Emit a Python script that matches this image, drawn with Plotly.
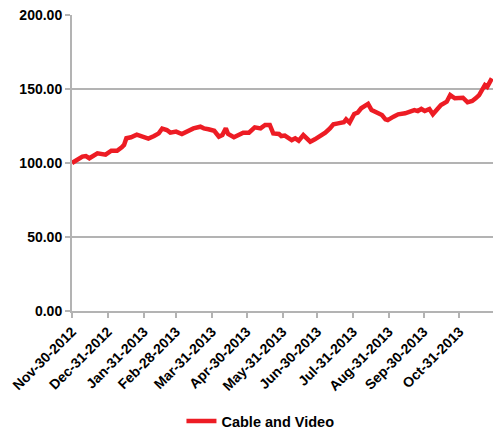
import pandas as pd
import plotly.graph_objects as go

# Cable and Video index level, sampled along the year
dates = [
    "2012-11-30", "2012-12-03", "2012-12-09", "2012-12-12", "2012-12-15", "2012-12-22",
    "2012-12-29", "2013-01-03", "2013-01-08", "2013-01-12", "2013-01-14", "2013-01-16",
    "2013-01-20", "2013-01-25", "2013-01-31", "2013-02-04", "2013-02-09", "2013-02-13",
    "2013-02-16", "2013-02-20", "2013-02-23", "2013-02-28", "2013-03-05", "2013-03-11",
    "2013-03-15", "2013-03-21", "2013-03-24", "2013-03-28", "2013-04-02", "2013-04-06",
    "2013-04-09", "2013-04-12", "2013-04-14", "2013-04-19", "2013-04-23", "2013-04-27",
    "2013-05-02", "2013-05-07", "2013-05-12", "2013-05-16", "2013-05-20", "2013-05-23",
    "2013-05-28", "2013-05-30", "2013-06-02", "2013-06-05", "2013-06-08", "2013-06-11",
    "2013-06-14", "2013-06-18", "2013-06-21", "2013-06-24", "2013-06-28", "2013-07-02",
    "2013-07-07", "2013-07-11", "2013-07-14", "2013-07-18", "2013-07-23", "2013-07-25",
    "2013-07-28", "2013-08-01", "2013-08-04", "2013-08-07", "2013-08-10", "2013-08-13",
    "2013-08-16", "2013-08-20", "2013-08-25", "2013-08-28", "2013-08-30", "2013-09-04",
    "2013-09-08", "2013-09-14", "2013-09-18", "2013-09-22", "2013-09-25", "2013-09-28",
    "2013-10-01", "2013-10-05", "2013-10-08", "2013-10-11", "2013-10-15", "2013-10-20",
    "2013-10-23", "2013-10-27", "2013-10-31", "2013-11-03", "2013-11-07", "2013-11-11",
    "2013-11-14", "2013-11-17", "2013-11-22", "2013-11-24", "2013-11-28",
]
cable_and_video = [
    100.0, 101.6, 104.3, 104.7, 103.2, 106.5,
    105.6, 108.3, 108.3, 110.6, 112.2, 116.7,
    117.4, 119.1, 117.4, 116.5, 118.2, 120.0,
    123.3, 122.3, 120.5, 121.2, 119.6, 121.8,
    123.4, 124.5, 123.4, 122.8, 121.8, 117.8,
    118.9, 123.4, 119.6, 117.4, 118.9, 120.5,
    120.5, 124.1, 123.4, 125.7, 125.7, 120.0,
    119.6, 118.2, 118.5, 116.7, 115.5, 116.7,
    115.1, 118.9, 116.7, 114.4, 116.0, 117.8,
    120.5, 123.4, 126.1, 126.8, 127.5, 129.5,
    127.3, 133.1, 134.0, 137.0, 138.5, 139.9,
    135.8, 134.0, 132.4, 129.5, 129.0, 131.3,
    132.9, 133.6, 134.7, 135.8, 135.1, 136.5,
    135.1, 136.5, 132.9, 135.8, 139.2, 141.4,
    145.9, 143.7, 143.7, 144.1, 141.0, 141.9,
    143.7, 145.9, 152.7, 151.5, 157.2,
]

# Month-end tick positions on the date axis
tick_dates = [
    "2012-11-30", "2012-12-31", "2013-01-31", "2013-02-28", "2013-03-31", "2013-04-30",
    "2013-05-31", "2013-06-30", "2013-07-31", "2013-08-31", "2013-09-30", "2013-10-31",
]
tick_labels = [pd.Timestamp(d).strftime("%b-%d-%Y") for d in tick_dates]

y_ticks = [0, 50, 100, 150, 200]

RED = "#ED1C24"
GRID = "#B3B3B3"
FONT = dict(family="Liberation Sans, Arial, sans-serif", size=14, color="#000000", weight="bold")

fig = go.Figure()
fig.add_trace(go.Scatter(
    x=pd.to_datetime(dates),
    y=cable_and_video,
    mode="lines",
    name="Cable and Video",
    line=dict(color=RED, width=4.5),
))

fig.update_layout(
    width=493,
    height=430,
    margin=dict(l=72, r=0, t=15, b=119, autoexpand=False),
    paper_bgcolor="white",
    plot_bgcolor="white",
    font=FONT,
    showlegend=True,
    legend=dict(
        orientation="h",
        x=0.26, xanchor="left",
        y=-0.372, yanchor="middle",
        font=dict(FONT, size=14.5),
        bgcolor="rgba(0,0,0,0)",
    ),
    xaxis=dict(
        type="date",
        automargin=False,
        range=["2012-11-30", "2013-11-29"],
        tickmode="array",
        tickvals=pd.to_datetime(tick_dates),
        ticktext=tick_labels,
        tickangle=-45,
        ticks="outside",
        ticklen=5,
        tickcolor=GRID,
        tickwidth=1.5,
        showline=True,
        linecolor=GRID,
        linewidth=2,
        showgrid=False,
        zeroline=False,
        tickfont=FONT,
    ),
    yaxis=dict(
        automargin=False,
        range=[0, 200],
        tickmode="array",
        tickvals=y_ticks,
        tickformat=".2f",
        ticks="outside",
        ticklen=5,
        tickcolor=GRID,
        tickwidth=1.5,
        showline=True,
        linecolor=GRID,
        linewidth=2,
        showgrid=True,
        gridcolor=GRID,
        gridwidth=1.5,
        zeroline=False,
        tickfont=FONT,
    ),
)

fig.write_html("out.html")
